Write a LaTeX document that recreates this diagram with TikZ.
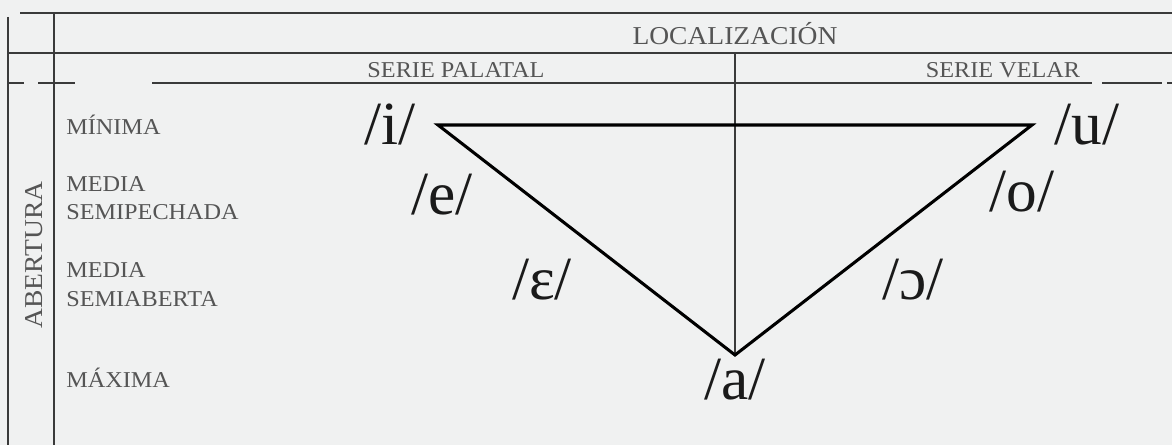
\documentclass[tikz,border=0pt]{standalone}
\usepackage{fontspec}
\setmainfont{Liberation Serif}
\newfontfamily\labfont[FakeStretch=1.07]{Liberation Serif}
\definecolor{bgc}{HTML}{F0F1F1}
\definecolor{gridc}{HTML}{3A3A3A}
\definecolor{labc}{HTML}{555555}
\definecolor{vowc}{HTML}{1A1A1A}
\begin{document}
\begin{tikzpicture}[x=0.75pt,y=-0.75pt,
  gridline/.style={draw=gridc,line width=1.5pt},
  triline/.style={draw=black,line width=2.3pt,line join=miter},
  axisline/.style={draw=gridc,line width=1.1pt},
  smalllab/.style={inner sep=0pt,text=labc,font=\labfont\fontsize{17}{20}\selectfont},
  biglab/.style={inner sep=0pt,text=labc,font=\labfont\fontsize{19.3}{23}\selectfont},
  vowel/.style={inner sep=0pt,anchor=base,text=vowc,font=\fontsize{46}{50}\selectfont}]
\fill[bgc] (0,0) rectangle (1172,445);
\useasboundingbox (0,0) rectangle (1172,445);
% grid
\coordinate (tl) at (20,13);
\coordinate (tr) at (1172,13);
\coordinate (l1t) at (8,17);
\coordinate (l1b) at (8,445);
\coordinate (l2t) at (54,13);
\coordinate (l2b) at (54,445);
\coordinate (h2l) at (8,53);
\coordinate (h2r) at (1172,53);
\draw[gridline] (tl) -- (tr);
\draw[gridline] (l1t) -- (l1b);
\draw[gridline] (l2t) -- (l2b);
\draw[gridline] (h2l) -- (h2r);
% dashed row
\coordinate (d1a) at (8,83);   \coordinate (d1b) at (24,83);
\coordinate (d2a) at (38,83);  \coordinate (d2b) at (75,83);
\coordinate (d3a) at (152,83); \coordinate (d3b) at (1092,83);
\coordinate (d4a) at (1102,83);\coordinate (d4b) at (1162,83);
\coordinate (d5a) at (1167,83);\coordinate (d5b) at (1172,83);
\draw[gridline] (d1a) -- (d1b);
\draw[gridline] (d2a) -- (d2b);
\draw[gridline] (d3a) -- (d3b);
\draw[gridline] (d4a) -- (d4b);
\draw[gridline] (d5a) -- (d5b);
% triangle
\coordinate (vi) at (438,125);
\coordinate (vu) at (1032,125);
\coordinate (va) at (735,355);
\coordinate (ctop) at (735,53);
\draw[axisline] (ctop) -- (va);
\draw[triline] (vi) -- (vu) -- (va) -- cycle;
% headings
\node[biglab,anchor=base] (loc) at (735,45) {LOCALIZACIÓN};
\node[smalllab,anchor=base] (pal) at (456,78) {SERIE PALATAL};
\node[smalllab,anchor=base] (vel) at (1003,78) {SERIE VELAR};
\node[biglab,anchor=center,rotate=90] (abe) at (34,255) {ABERTURA};
% left labels
\node[smalllab,anchor=base west] (min) at (66,135) {MÍNIMA};
\node[smalllab,anchor=base west] (med1) at (66,192) {MEDIA};
\node[smalllab,anchor=base west] (semc) at (66,220) {SEMIPECHADA};
\node[smalllab,anchor=base west] (med2) at (66,278) {MEDIA};
\node[smalllab,anchor=base west] (sema) at (66,307) {SEMIABERTA};
\node[smalllab,anchor=base west] (max) at (66,388) {MÁXIMA};
% vowels
\node[vowel] (ni) at (390,145) {/i/};
\node[vowel] (nu) at (1087,145) {/u/};
\node[vowel] (ne) at (442,215) {/e/};
\node[vowel] (no) at (1022,212) {/o/};
\node[vowel] (neps) at (542,300) {/ɛ/};
\node[vowel] (nopen) at (913,300) {/ɔ/};
\node[vowel] (na) at (735,400) {/a/};
\end{tikzpicture}
\end{document}
